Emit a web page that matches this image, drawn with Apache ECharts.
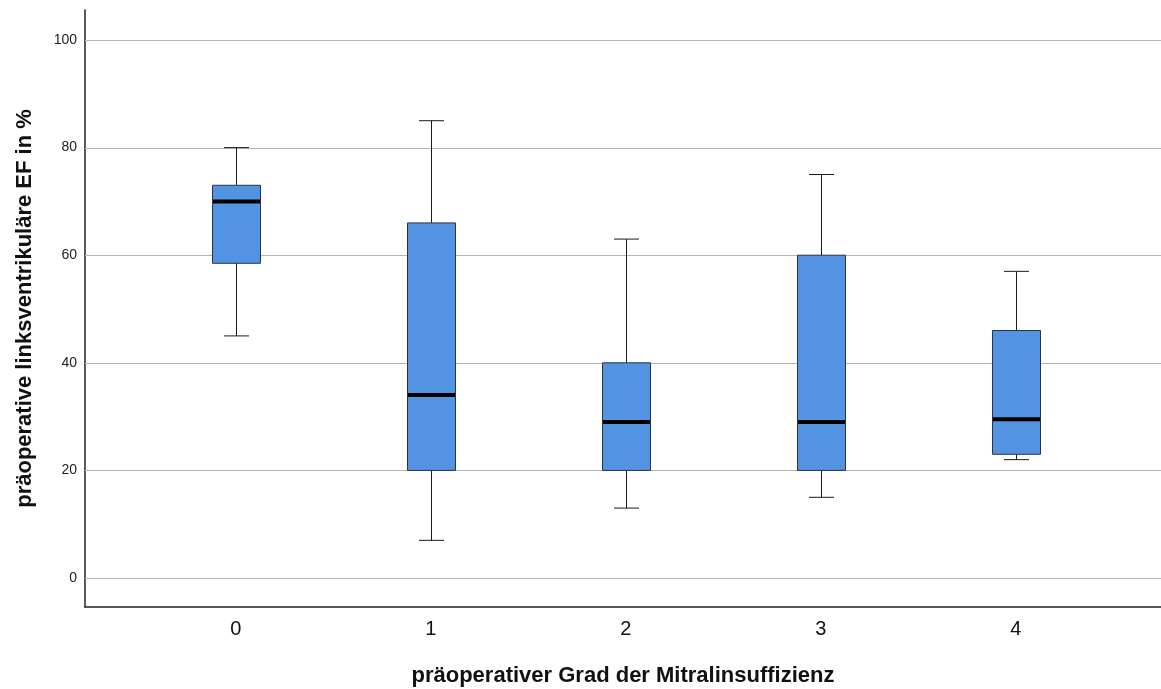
<!DOCTYPE html>
<html>
<head>
<meta charset="utf-8">
<script src="https://cdn.jsdelivr.net/npm/echarts@6/dist/echarts.min.js"></script>
<style>html,body{margin:0;padding:0;background:#fff}#c{width:1161px;height:689px}</style>
</head>
<body>
<div id="c"></div>
<script>
var categories = ['0', '1', '2', '3', '4'];
var mins    = [45, 7, 13, 15, 22];
var q1s     = [58.5, 20, 20, 20, 23];
var medians = [70, 34, 29, 29, 29.5];
var q3s     = [73, 66, 40, 60, 46];
var maxs    = [80, 85, 63, 75, 57];
var yTicks  = [0, 20, 40, 60, 80, 100];

var data = categories.map(function (c, i) {
  return [i, mins[i], q1s[i], medians[i], q3s[i], maxs[i]];
});

var chart = echarts.init(document.getElementById('c'), null, {renderer: 'canvas'});
chart.setOption({
  animation: false,
  backgroundColor: '#fff',
  grid: {left: 85, right: 0, top: 10, bottom: 82, containLabel: false, outerBoundsMode: 'none'},
  xAxis: {
    type: 'value',
    min: -0.774,
    max: 4.744,
    name: 'präoperativer Grad der Mitralinsuffizienz',
    nameLocation: 'middle',
    nameGap: 58,
    nameTextStyle: {fontFamily: 'Liberation Sans', fontWeight: 'bold', fontSize: 22, color: '#111'},
    axisLine: {show: true, onZero: false, lineStyle: {color: '#222', width: 1.5}},
    axisTick: {show: false},
    splitLine: {show: false},
    axisLabel: {
      customValues: [0, 1, 2, 3, 4],
      formatter: function (v) { return categories[Math.round(v)]; },
      fontFamily: 'Liberation Sans', fontSize: 20, color: '#111', margin: 12
    }
  },
  yAxis: {
    type: 'value',
    min: -5.39,
    max: 105.58,
    name: 'präoperative linksventrikuläre EF in %',
    nameLocation: 'middle',
    nameGap: 49,
    nameRotate: 90,
    nameTextStyle: {fontFamily: 'Liberation Sans', fontWeight: 'bold', fontSize: 22, color: '#111'},
    axisLine: {show: true, onZero: false, lineStyle: {color: '#222', width: 1.5}},
    axisTick: {show: false},
    axisLabel: {
      customValues: yTicks,
      fontFamily: 'Liberation Sans', fontSize: 14, color: '#222', margin: 8
    },
    splitLine: {show: false}
  },
  series: [{
    type: 'custom',
    data: yTicks.map(function (t) { return [t]; }),
    silent: true,
    z: 1,
    renderItem: function (params, api) {
      var y = api.coord([0, api.value(0)])[1];
      var cs = params.coordSys;
      return {
        type: 'line',
        shape: {x1: cs.x, y1: Math.round(y) + 0.5, x2: cs.x + cs.width, y2: Math.round(y) + 0.5},
        style: {stroke: '#b4b4b4', lineWidth: 1}
      };
    }
  }, {
    type: 'custom',
    data: data,
    z: 2,
    renderItem: function (params, api) {
      var x = api.value(0);
      var pMin = api.coord([x, api.value(1)]);
      var pQ1 = api.coord([x, api.value(2)]);
      var pMed = api.coord([x, api.value(3)]);
      var pQ3 = api.coord([x, api.value(4)]);
      var pMax = api.coord([x, api.value(5)]);
      var cx = Math.round(pMin[0]) + 0.5;
      var boxHalf = 24, capHalf = 12.5;
      var wStyle = {stroke: '#1a1a1a', lineWidth: 1};
      return {
        type: 'group',
        children: [
          {type: 'line', shape: {x1: cx, y1: pMax[1], x2: cx, y2: pQ3[1]}, style: wStyle},
          {type: 'line', shape: {x1: cx, y1: pMin[1], x2: cx, y2: pQ1[1]}, style: wStyle},
          {type: 'line', shape: {x1: cx - capHalf, y1: pMax[1], x2: cx + capHalf, y2: pMax[1]}, style: wStyle},
          {type: 'line', shape: {x1: cx - capHalf, y1: pMin[1], x2: cx + capHalf, y2: pMin[1]}, style: wStyle},
          {type: 'rect', shape: {x: cx - boxHalf, y: pQ3[1], width: boxHalf * 2, height: pQ1[1] - pQ3[1]},
            style: {fill: '#5294e2', stroke: '#2b3340', lineWidth: 1}},
          {type: 'line', shape: {x1: cx - boxHalf + 0.5, y1: pMed[1], x2: cx + boxHalf - 0.5, y2: pMed[1]},
            style: {stroke: '#000', lineWidth: 4}}
        ]
      };
    }
  }]
});
</script>
</body>
</html>
